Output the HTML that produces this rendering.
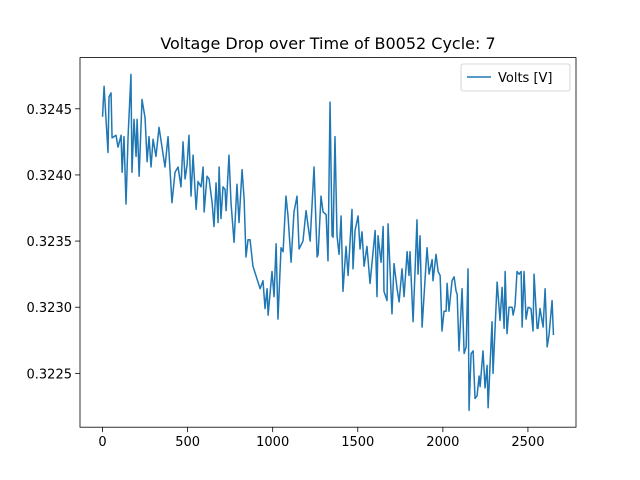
<!DOCTYPE html>
<html><head><meta charset="utf-8"><style>
html,body{margin:0;padding:0;background:#fff;}
svg{display:block;font-family:"DejaVu Sans","Liberation Sans",sans-serif;}
</style></head><body>
<svg id="chart" width="640" height="480">
<rect x="0" y="0" width="640" height="480" fill="#fff"/>
<text x="328" y="49" text-anchor="middle" font-size="16" fill="#000">Voltage Drop over Time of B0052 Cycle: 7</text>
<g id="xt"></g><g id="yt"></g>
<path id="line" fill="none" stroke="#1f77b4" stroke-width="1.5" stroke-linejoin="round"/>
<rect x="80" y="57.6" width="496" height="369.6" fill="none" stroke="#000" stroke-width="0.8"/>
<g>
<rect x="461" y="64" width="109" height="27" rx="2" fill="#fff" fill-opacity="0.8" stroke="#ccc" stroke-width="0.8"/>
<line x1="467" y1="77" x2="491" y2="77" stroke="#1f77b4" stroke-width="1.5"/>
<text x="498" y="82" font-size="13" fill="#000">Volts [V]</text>
</g>
</svg>
<script>
const times=[0,9,32,38,50,56,79,91,109,115,126,138,150,167,173,185,197,203,215,232,250,262,273,285,297,314,332,367,385,408,426,444,461,473,485,497,508,520,532,550,561,579,591,597,614,626,644,655,667,679,685,696,708,720,726,743,755,773,790,802,820,832,843,855,867,884,
926,943,955,967,973,996,1008,1020,1031,1049,1061,1078,1090,1108,1125,1143,1155,1178,1196,1220,1243,1261,1267,1284,1296,1314,1325,1337,1349,1355,1366,1378,1390,1402,1413,1431,1443,1466,1472,1484,1502,1513,1525,1537,1554,1572,1602,1613,1619,1637,1649,1654,1672,1678,1701,1713,1731,1743,1760,1772,1790,1801,
1807,1825,1848,1854,1866,1878,1907,1919,1937,1942,1960,1972,1984,1995,2007,2019,2025,2036,2054,2066,2078,2084,2095,2113,2125,2137,2148,2154,2166,2178,2189,2201,2213,2219,2236,2248,2260,2266,2289,2295,2319,2336,2348,2360,2366,2377,2389,2407,2413,2424,2436,2448,2460,2466,2477,2489,2501,2518,2530,2536,2554,2559,2571,2589,2601,2613,2624,2642,2650];
const volts=[0.32444,0.32467,0.32417,0.32459,0.32462,0.32428,0.32430,0.32421,0.32430,0.32402,0.32429,0.32378,0.32429,0.32476,0.32402,0.32442,0.32414,0.32442,0.32399,0.32457,0.32443,0.32410,0.32429,0.32406,0.32427,0.32414,0.32436,0.32406,0.32429,0.32379,0.32402,0.32406,0.32391,0.32425,0.32397,0.32408,0.32430,0.32384,0.32415,0.32374,0.32395,0.32391,0.32406,0.32372,0.32399,0.32397,0.32379,0.32361,0.32394,0.32364,0.32406,0.32367,0.32391,0.32389,0.32373,0.32415,0.32379,0.32349,0.32393,0.32364,0.32404,0.32382,0.32338,0.32351,0.32351,0.32331,
0.32314,0.32320,0.32299,0.32314,0.32294,0.32327,0.32308,0.32348,0.32291,0.32345,0.32342,0.32384,0.32369,0.32334,0.32372,0.32384,0.32344,0.32350,0.32373,0.32350,0.32406,0.32338,0.32340,0.32384,0.32372,0.32370,0.32335,0.32455,0.32354,0.32353,0.32429,0.32354,0.32340,0.32369,0.32312,0.32346,0.32324,0.32374,0.32329,0.32358,0.32369,0.32344,0.32357,0.32331,0.32346,0.32318,0.32358,0.32308,0.32354,0.32334,0.32361,0.32312,0.32305,0.32363,0.32295,0.32333,0.32314,0.32304,0.32329,0.32308,0.32342,0.32324,
0.32342,0.32289,0.32366,0.32325,0.32354,0.32285,0.32345,0.32325,0.32336,0.32320,0.32340,0.32327,0.32324,0.32282,0.32297,0.32297,0.32318,0.32297,0.32320,0.32323,0.32312,0.32310,0.32267,0.32314,0.32265,0.32270,0.32329,0.32222,0.32265,0.32267,0.32231,0.32233,0.32248,0.32240,0.32267,0.32239,0.32256,0.32224,0.32289,0.32250,0.32319,0.32290,0.32315,0.32284,0.32327,0.32280,0.32300,0.32300,0.32294,0.32301,0.32327,0.32325,0.32327,0.32285,0.32327,0.32291,0.32300,0.32299,0.32282,0.32325,0.32284,0.32284,0.32299,0.32285,0.32314,0.32270,0.32279,0.32305,0.32279];
const xTicks=[0,500,1000,1500,2000,2500];
const yTicks=[0.3225,0.3230,0.3235,0.3240,0.3245];
const yTickLabels=["0.3225","0.3230","0.3235","0.3240","0.3245"];

const L=80,R=576,T=57.6,B=427.2;
const n=Math.min(times.length,volts.length);
let tmin=Infinity,tmax=-Infinity,vmin=Infinity,vmax=-Infinity;
for(let i=0;i<n;i++){tmin=Math.min(tmin,times[i]);tmax=Math.max(tmax,times[i]);vmin=Math.min(vmin,volts[i]);vmax=Math.max(vmax,volts[i]);}
const tp=(tmax-tmin)*0.05, vp=(vmax-vmin)*0.05;
const x0=tmin-tp,x1=tmax+tp,y0=vmin-vp,y1=vmax+vp;
const sx=t=>L+(t-x0)/(x1-x0)*(R-L);
const sy=v=>B-(v-y0)/(y1-y0)*(B-T);
const NS="http://www.w3.org/2000/svg";
let d="";
for(let i=0;i<n;i++){d+=(i?"L":"M")+sx(times[i]).toFixed(2)+","+sy(volts[i]).toFixed(2);}
document.getElementById('line').setAttribute('d',d);
const xt=document.getElementById('xt');
xTicks.forEach(t=>{
  const x=sx(t);
  const ln=document.createElementNS(NS,'line');
  ln.setAttribute('x1',x);ln.setAttribute('x2',x);ln.setAttribute('y1',B);ln.setAttribute('y2',B+4.9);
  ln.setAttribute('stroke','#000');ln.setAttribute('stroke-width','0.8');
  
  
  xt.appendChild(ln);
  const tx=document.createElementNS(NS,'text');
  tx.setAttribute('x',x);tx.setAttribute('y',B+19);tx.setAttribute('text-anchor','middle');tx.setAttribute('font-size','13');
  tx.textContent=String(t);
  
  
  xt.appendChild(tx);
});
const yt=document.getElementById('yt');
yTicks.forEach((v,i)=>{
  const y=sy(v);
  const ln=document.createElementNS(NS,'line');
  ln.setAttribute('x1',L-4.9);ln.setAttribute('x2',L);ln.setAttribute('y1',y);ln.setAttribute('y2',y);
  ln.setAttribute('stroke','#000');ln.setAttribute('stroke-width','0.8');
  
  
  yt.appendChild(ln);
  const tx=document.createElementNS(NS,'text');
  tx.setAttribute('x',L-8);tx.setAttribute('y',y+5);tx.setAttribute('text-anchor','end');tx.setAttribute('font-size','13');
  tx.textContent=yTickLabels[i];
  
  
  yt.appendChild(tx);
});
</script>
</body></html>
